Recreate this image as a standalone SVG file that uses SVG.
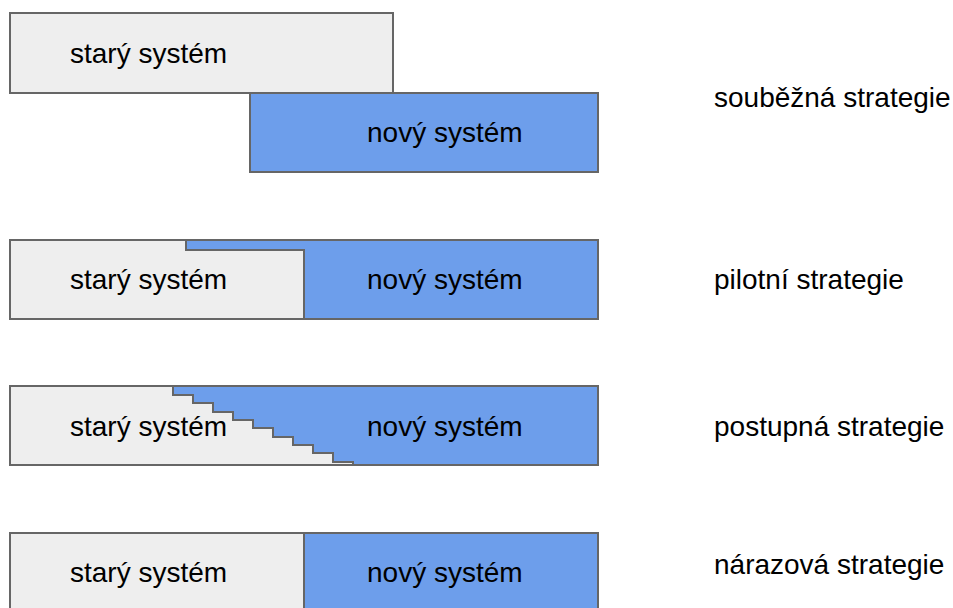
<svg xmlns="http://www.w3.org/2000/svg" width="953" height="608" viewBox="0 0 953 608">
<style>
.old{fill:#eeeeee;stroke:#666666;stroke-width:2}
.new{fill:#6d9eeb;stroke:#666666;stroke-width:2}
text{font-family:"Liberation Sans",Arial,sans-serif;font-size:28px;fill:#000}
</style>
<rect width="953" height="608" fill="#fff"/>
<g id="row-soubezna">
<rect class="old" x="10" y="13" width="383" height="80"/>
<rect class="new" x="250" y="93" width="348" height="79"/>
<text x="70" y="63">starý systém</text>
<text x="367" y="142">nový systém</text>
<text x="714" y="107">souběžná strategie</text>
</g>
<g id="row-pilotni">
<polygon class="new" points="186,240 598,240 598,319 304,319 304,250 186,250"/>
<polygon class="old" points="10,240 186,240 186,250 304,250 304,319 10,319"/>
<text x="70" y="289">starý systém</text>
<text x="367" y="289">nový systém</text>
<text x="714" y="289">pilotní strategie</text>
</g>
<g id="row-postupna">
<polygon class="new" points="173,386 598,386 598,465 353,465 353,462 333,462 333,453 313,453 313,445 293,445 293,437 273,437 273,428 253,428 253,420 233,420 233,412 213,412 213,403 193,403 193,395 173,395"/>
<polygon class="old" points="10,386 173,386 173,395 193,395 193,403 213,403 213,412 233,412 233,420 253,420 253,428 273,428 273,437 293,437 293,445 313,445 313,453 333,453 333,462 353,462 353,465 10,465"/>
<text x="70" y="436">starý systém</text>
<text x="367" y="436">nový systém</text>
<text x="714" y="436">postupná strategie</text>
</g>
<g id="row-narazova">
<rect class="old" x="10" y="533" width="294" height="80"/>
<rect class="new" x="304" y="533" width="294" height="80"/>
<text x="70" y="582">starý systém</text>
<text x="367" y="582">nový systém</text>
<text x="714" y="574">nárazová strategie</text>
</g>
<g id="connectors"></g>
</svg>
